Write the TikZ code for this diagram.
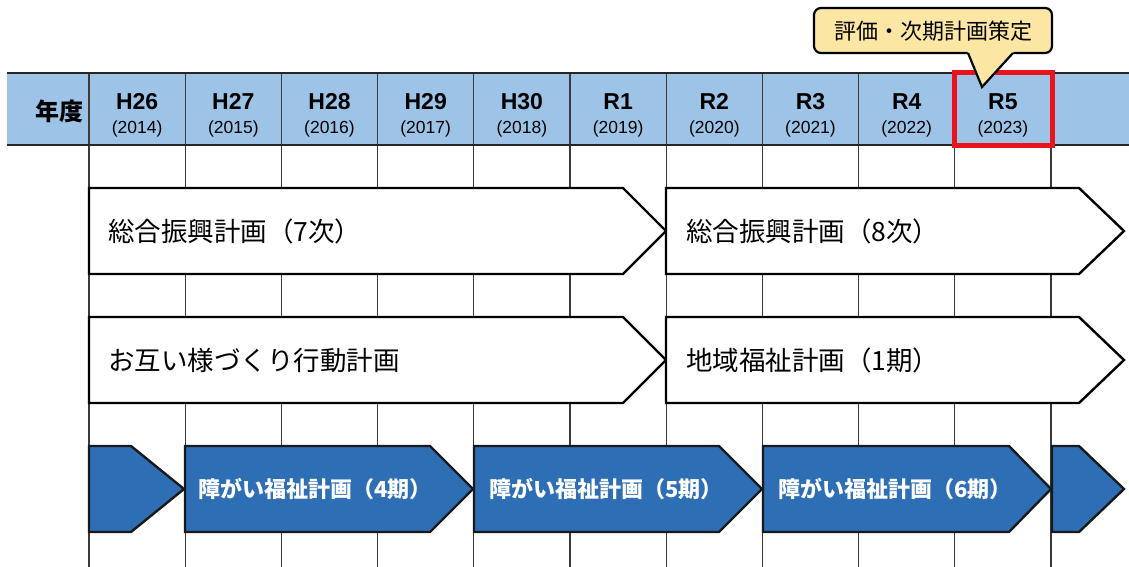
\documentclass[tikz,border=0pt]{standalone}
\usepackage{fontspec}
\setmainfont{Liberation Sans}
\newfontfamily\jp{Noto Sans CJK JP}
\definecolor{hdrblue}{HTML}{9DC3E6}
\definecolor{planblue}{HTML}{2E6EB5}
\definecolor{calloutfill}{HTML}{FCE6A4}
\definecolor{markred}{HTML}{E8141B}
\definecolor{gridgray}{HTML}{3A3A3A}
\tikzset{
  gridline/.style={draw=gridgray, line width=1.1},
  hdrline/.style={draw=black!85, line width=2.2},
  whitearrow/.style={draw=black, fill=white, line width=2.4, line join=miter},
  bluearrow/.style={draw=black!90, fill=planblue, line width=2.4, line join=miter},
  yrlab/.style={font=\fontsize{23}{23}\selectfont\bfseries, inner sep=0},
  yrnum/.style={font=\fontsize{17.5}{17.5}\selectfont, inner sep=0},
  whitetext/.style={anchor=west, inner sep=0, font=\jp\fontsize{26.5}{26.5}\selectfont},
  bluetext/.style={anchor=west, inner sep=0, text=white, font=\jp\bfseries\fontsize{22}{22}\selectfont},
}
\begin{document}
\begin{tikzpicture}[x=1pt,y=-1pt]
\useasboundingbox (0,0) rectangle (1129,567);
\fill[white] (0,0) rectangle (1129,567);
% header band
\fill[hdrblue] (7,73) rectangle (1129,145);
\foreach \i in {0,...,10} {
  \draw[gridline] ({89+96.2*\i},73) -- ({89+96.2*\i},567);
}
\draw[hdrline] (7,73) -- (1129,73);
\draw[hdrline] (7,145) -- (1129,145);
\node[anchor=east, inner sep=0, font=\jp\bfseries\fontsize{24}{24}\selectfont] (nendo) at (84,111) {年度};
\foreach \lab/\yr [count=\i from 0] in {H26/2014,H27/2015,H28/2016,H29/2017,H30/2018,R1/2019,R2/2020,R3/2021,R4/2022,R5/2023} {
  \node[yrlab, anchor=base] (h\i) at ({137.1+96.2*\i},110) {\lab};
  \node[yrnum, anchor=base] (y\i) at ({137.1+96.2*\i},134) {(\yr)};
}
% row 1
\draw[whitearrow] (89,188) -- (623,188) -- (666,231) -- (623,274) -- (89,274) -- cycle;
\node[whitetext] (sogo7) at (108,231) {総合振興計画（7次）};
\draw[whitearrow] (666,188) -- (1079,188) -- (1124,231) -- (1079,274) -- (666,274) -- cycle;
\node[whitetext] (sogo8) at (686,231) {総合振興計画（8次）};
% row 2
\draw[whitearrow] (89,317) -- (623,317) -- (666,360) -- (623,403) -- (89,403) -- cycle;
\node[whitetext] (otagai) at (108,360) {お互い様づくり行動計画};
\draw[whitearrow] (666,317) -- (1079,317) -- (1124,360) -- (1079,403) -- (666,403) -- cycle;
\node[whitetext] (chiiki) at (686,360) {地域福祉計画（1期）};
% row 3
\draw[bluearrow] (89,446) -- (131,446) -- (184,489) -- (131,532) -- (89,532) -- cycle;
\draw[bluearrow] (185,446) -- (430,446) -- (473,489) -- (430,532) -- (185,532) -- cycle;
\node[bluetext] (sho4) at (198,489) {障がい福祉計画（4期）};
\draw[bluearrow] (474,446) -- (719,446) -- (762,489) -- (719,532) -- (474,532) -- cycle;
\node[bluetext] (sho5) at (489,489) {障がい福祉計画（5期）};
\draw[bluearrow] (763,446) -- (1009,446) -- (1051,489) -- (1009,532) -- (763,532) -- cycle;
\node[bluetext] (sho6) at (778,489) {障がい福祉計画（6期）};
\draw[bluearrow] (1052,446) -- (1079,446) -- (1124,489) -- (1079,532) -- (1052,532) -- cycle;
% red marker
\draw[markred, line width=5] (954.5,72.5) rectangle (1052.5,145.5);
% callout
\draw[draw=black, fill=calloutfill, line width=2.2, rounded corners=7] (814,8) rectangle (1052,53);
\fill[calloutfill] (966.5,50) -- (968,53) -- (982,87) -- (1013,53) -- (1014.5,50) -- cycle;
\draw[black, line width=2.2, line join=miter] (968,53) -- (982,87) -- (1013,53);
\node[inner sep=0, font=\jp\fontsize{22}{22}\selectfont] (callout) at (933,31) {評価・次期計画策定};
\end{tikzpicture}
\end{document}
